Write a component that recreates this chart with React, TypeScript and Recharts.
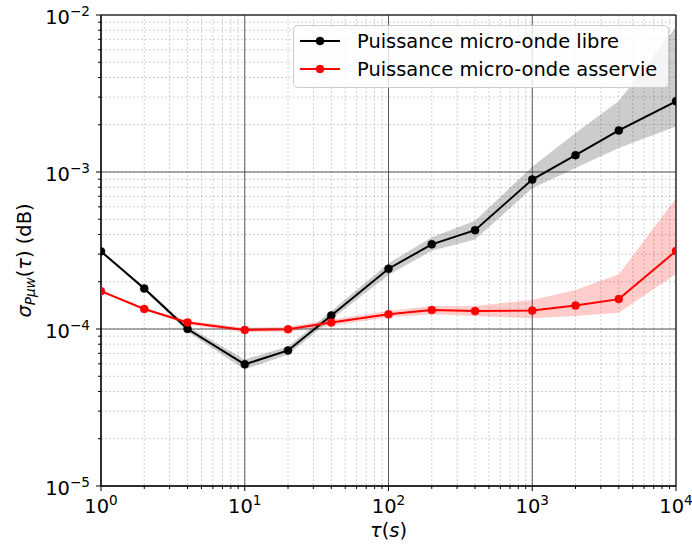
import React from 'react';
import {
  ComposedChart,
  Line,
  Area,
  XAxis,
  YAxis,
  CartesianGrid,
  ReferenceLine,
  ReferenceArea,
  Legend,
} from 'recharts';

// ---- data ----
const tau = [1, 2, 4, 10, 20, 40, 100, 200, 400, 1000, 2000, 4000, 10000];

const libre = [3.12e-4, 1.81e-4, 1.0e-4, 5.96e-5, 7.3e-5, 1.22e-4, 2.42e-4, 3.46e-4, 4.26e-4, 8.95e-4, 1.28e-3, 1.84e-3, 2.82e-3];
const libreLow = [3.08e-4, 1.76e-4, 0.96e-4, 5.53e-5, 6.85e-5, 1.15e-4, 2.21e-4, 3.15e-4, 3.72e-4, 7.87e-4, 1.06e-3, 1.42e-3, 1.95e-3];
const libreHigh = [3.16e-4, 1.86e-4, 1.04e-4, 6.4e-5, 7.75e-5, 1.3e-4, 2.62e-4, 3.84e-4, 4.9e-4, 1.08e-3, 1.77e-3, 2.83e-3, 8.4e-3];

const asservie = [1.74e-4, 1.34e-4, 1.1e-4, 9.86e-5, 9.95e-5, 1.1e-4, 1.24e-4, 1.32e-4, 1.3e-4, 1.31e-4, 1.41e-4, 1.55e-4, 3.14e-4];
const asservieLow = [1.73e-4, 1.32e-4, 1.07e-4, 0.955e-4, 0.96e-4, 1.05e-4, 1.19e-4, 1.24e-4, 1.21e-4, 1.17e-4, 1.21e-4, 1.27e-4, 2.24e-4];
const asservieHigh = [1.75e-4, 1.36e-4, 1.13e-4, 1.02e-4, 1.035e-4, 1.15e-4, 1.3e-4, 1.4e-4, 1.4e-4, 1.53e-4, 1.77e-4, 2.23e-4, 6.8e-4];

const seriesNames = ['Puissance micro-onde libre', 'Puissance micro-onde asservie'];
const seriesColors = ['#000000', '#ff0000'];

// ---- ticks ----
const xMajor = [1, 10, 100, 1000, 10000];
const xMajorExp = ['0', '1', '2', '3', '4'];
const xTicks = [
  1, 2, 3, 4, 5, 6, 7, 8, 9,
  10, 20, 30, 40, 50, 60, 70, 80, 90,
  100, 200, 300, 400, 500, 600, 700, 800, 900,
  1000, 2000, 3000, 4000, 5000, 6000, 7000, 8000, 9000,
  10000,
];
const yMajor = [1e-5, 1e-4, 1e-3, 1e-2];
const yMajorExp = ['\u22125', '\u22124', '\u22123', '\u22122'];
const yTicks = [
  1e-5, 2e-5, 3e-5, 4e-5, 5e-5, 6e-5, 7e-5, 8e-5, 9e-5,
  1e-4, 2e-4, 3e-4, 4e-4, 5e-4, 6e-4, 7e-4, 8e-4, 9e-4,
  1e-3, 2e-3, 3e-3, 4e-3, 5e-3, 6e-3, 7e-3, 8e-3, 9e-3,
  1e-2,
];

const data = tau.map((t, i) => ({
  tau: t,
  libre: libre[i],
  libreBand: [libreLow[i], libreHigh[i]],
  asservie: asservie[i],
  asservieBand: [asservieLow[i], asservieHigh[i]],
}));

const FONT = "'DejaVu Sans', sans-serif";
const FS = 19.44;
const FS_SUP = 13.6;

function majorIndex(list: number[], v: number) {
  return list.findIndex((m) => Math.abs(m - v) / m < 1e-9);
}

const XTick = (props: any) => {
  const { x, y, payload } = props;
  const idx = majorIndex(xMajor, payload.value);
  const major = idx >= 0;
  return (
    <g>
      <line x1={x} x2={x} y1={y} y2={y + (major ? 5 : 3)} stroke="#000" strokeWidth={1} />
      {major && (
        <text x={x} y={y + 27} textAnchor="middle" fontFamily={FONT} fontSize={FS} fill="#000">
          10
          <tspan dy={-8.4} fontSize={FS_SUP}>{xMajorExp[idx]}</tspan>
        </text>
      )}
    </g>
  );
};

const YTick = (props: any) => {
  const { x, y, payload } = props;
  const idx = majorIndex(yMajor, payload.value);
  const major = idx >= 0;
  return (
    <g>
      <line x1={x - (major ? 5 : 3)} x2={x} y1={y} y2={y} stroke="#000" strokeWidth={1} />
      {major && (
        <text x={x - 11} y={y + 8.5} textAnchor="end" fontFamily={FONT} fontSize={FS} fill="#000">
          10
          <tspan dy={-8} fontSize={FS_SUP}>{yMajorExp[idx]}</tspan>
        </text>
      )}
    </g>
  );
};

const YLabel = (props: any) => {
  const vb = props.viewBox || { x: 0, y: 15, width: 101, height: 471 };
  const cx = 31;
  const cy = vb.y + vb.height / 2 + 10;
  return (
    <text
      transform={`rotate(-90, ${cx}, ${cy})`}
      x={cx}
      y={cy}
      textAnchor="middle"
      fontFamily={FONT}
      fontSize={FS}
      fill="#000"
    >
      <tspan fontStyle="italic">σ</tspan>
      <tspan fontStyle="italic" fontSize={FS_SUP} dy={4}>Pμw</tspan>
      <tspan dy={-4}>(</tspan>
      <tspan fontStyle="italic">τ</tspan>
      <tspan>) (dB)</tspan>
    </text>
  );
};

const XLabel = (props: any) => {
  const vb = props.viewBox || { x: 101, y: 486, width: 575, height: 59 };
  const cx = vb.x + vb.width / 2;
  const cy = vb.y + 51;
  return (
    <text x={cx} y={cy} textAnchor="middle" fontFamily={FONT} fontSize={FS} fill="#000">
      <tspan fontStyle="italic">τ</tspan>
      <tspan>(</tspan>
      <tspan fontStyle="italic">s</tspan>
      <tspan>)</tspan>
    </text>
  );
};

const LegendBox = () => {
  const rows = [16, 44];
  return (
    <svg width={377} height={64} style={{ display: 'block' }}>
      <rect x={0.5} y={0.5} width={375} height={62} rx={4} ry={4} fill="#fff" fillOpacity={0.8} stroke="#cccccc" strokeWidth={1} />
      {seriesNames.map((name, i) => (
        <g key={name}>
          <line x1={7} x2={47} y1={rows[i]} y2={rows[i]} stroke={seriesColors[i]} strokeWidth={2} />
          <circle cx={27} cy={rows[i]} r={4} fill={seriesColors[i]} stroke={seriesColors[i]} strokeWidth={0.5} />
          <text x={64} y={rows[i] + 7} fontFamily={FONT} fontSize={FS} fill="#000">
            {name}
          </text>
        </g>
      ))}
    </svg>
  );
};

export default function App() {
  return (
    <div style={{ position: 'absolute', left: 0, top: 0, width: 692, height: 545, background: '#fff' }}>
      <ComposedChart
        width={692}
        height={545}
        data={data}
        margin={{ top: 15, right: 16, bottom: 0, left: 0 }}
      >
        <Area
          dataKey="libreBand"
          type="linear"
          stroke="none"
          fill="#000"
          fillOpacity={0.2}
          isAnimationActive={false}
          legendType="none"
          activeDot={false}
          dot={false}
        />
        <Area
          dataKey="asservieBand"
          type="linear"
          stroke="none"
          fill="#ff0000"
          fillOpacity={0.2}
          isAnimationActive={false}
          legendType="none"
          activeDot={false}
          dot={false}
        />
        <CartesianGrid stroke="#c4c4c4" strokeDasharray="2 2" strokeWidth={0.8} />
        {xMajor.map((v) => (
          <ReferenceLine key={'x' + v} x={v} stroke="#333" strokeWidth={0.8} />
        ))}
        {yMajor.map((v) => (
          <ReferenceLine key={'y' + v} y={v} stroke="#333" strokeWidth={0.8} />
        ))}
        <XAxis
          dataKey="tau"
          type="number"
          scale="log"
          domain={[1, 10000]}
          allowDataOverflow
          ticks={xTicks}
          interval={0}
          height={59}
          tickLine={false}
          tickSize={0}
          tickMargin={0}
          axisLine={{ stroke: '#000', strokeWidth: 1 }}
          tick={<XTick />}
          label={<XLabel />}
        />
        <YAxis
          type="number"
          scale="log"
          domain={[1e-5, 1e-2]}
          allowDataOverflow
          ticks={yTicks}
          interval={0}
          width={101}
          tickLine={false}
          tickSize={0}
          tickMargin={0}
          axisLine={{ stroke: '#000', strokeWidth: 1 }}
          tick={<YTick />}
          label={<YLabel />}
        />
        <ReferenceArea x1={1} x2={10000} y1={1e-5} y2={1e-2} fill="none" stroke="#000" strokeWidth={1} />
        <Line
          dataKey="libre"
          name={seriesNames[0]}
          type="linear"
          stroke={seriesColors[0]}
          strokeWidth={2}
          dot={{ r: 4, fill: seriesColors[0], stroke: seriesColors[0], strokeWidth: 0.5 }}
          activeDot={false}
          isAnimationActive={false}
        />
        <Line
          dataKey="asservie"
          name={seriesNames[1]}
          type="linear"
          stroke={seriesColors[1]}
          strokeWidth={2}
          dot={{ r: 4, fill: seriesColors[1], stroke: seriesColors[1], strokeWidth: 0.5 }}
          activeDot={false}
          isAnimationActive={false}
        />
        <Legend
          layout="vertical"
          align="center"
          verticalAlign="middle"
          content={<LegendBox />}
          wrapperStyle={{ left: 293, top: 25, width: 377, height: 64 }}
        />
      </ComposedChart>
    </div>
  );
}
